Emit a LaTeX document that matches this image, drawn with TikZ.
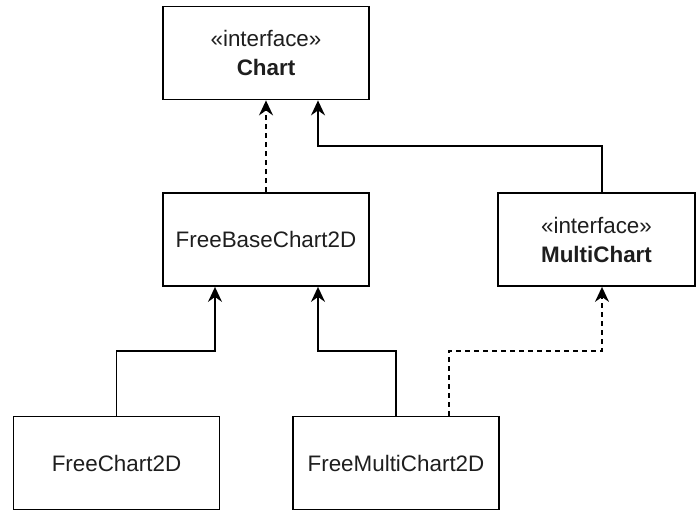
\documentclass[tikz,border=0pt]{standalone}
\usepackage{fontspec}
\setmainfont{Liberation Sans}
\usetikzlibrary{
  arrows.meta,
  positioning
}
\definecolor{umlink}{RGB}{0,0,0}
\definecolor{umltext}{RGB}{30,30,30}
\newcommand{\stereo}[1]{«#1»}

\begin{document}
\begin{tikzpicture}[x=0.5pt, y=-0.5pt,
  classbox/.style={draw=umlink, line width=0.9pt, minimum width=103pt, minimum height=46.5pt,
    inner sep=0pt, align=center, text=umltext, font=\fontsize{11.2}{14.5}\selectfont},
  link/.style={draw=umlink, line width=0.9pt, -{Stealth[length=7.5pt, width=7pt, inset=2.5pt]}},
  realize/.style={dash pattern=on 2.5pt off 2pt}]
  \useasboundingbox (0,0) rectangle (696,510);
  % classes
  \node[classbox] (chart) at (266,53) {\stereo{interface}\\\textbf{Chart}};
  \node[classbox] (base) at (266,239.5) {FreeBaseChart2D};
  \node[classbox, minimum width=98.5pt] (multi) at (596.5,239.5) {\stereo{interface}\\\textbf{MultiChart}};
  \node[classbox] (free) at (116.5,463) {FreeChart2D};
  \node[classbox] (fmulti) at (396,463) {FreeMultiChart2D};
  % bends
  \coordinate (topl) at (318,146);
  \coordinate (topr) at (602,146);
  \coordinate (lowl) at (215,351);
  \coordinate (lowm) at (318,351);
  \coordinate (lowr) at (449,351);
  \coordinate (lowe) at (602,351);
  % relations
  \draw[link, realize] (base) -- (chart);
  \draw[link] (topr |- multi.north) -- (topr) -- (topl) -- (topl |- chart.south);
  \draw[link] (free.north) |- (lowl) -- (lowl |- base.south);
  \draw[link] (fmulti.north) |- (lowm) -- (lowm |- base.south);
  \draw[link, realize] (lowr |- fmulti.north) -- (lowr) -- (lowe) -- (lowe |- multi.south);
\end{tikzpicture}
\end{document}
